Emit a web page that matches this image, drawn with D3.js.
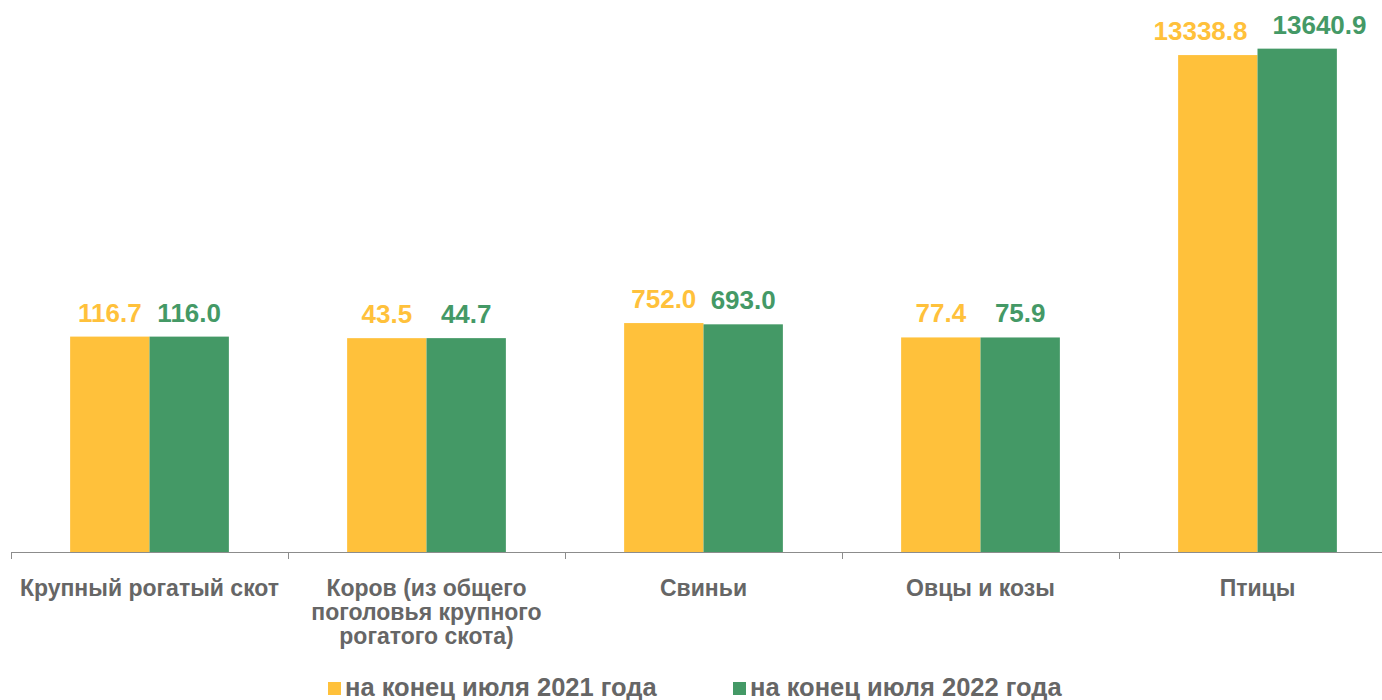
<!DOCTYPE html>
<html>
<head>
<meta charset="utf-8">
<script src="https://cdn.jsdelivr.net/npm/d3@7"></script>
<style>
  body { margin: 0; background: #fff; }
  svg { display: block; }
</style>
</head>
<body>
<svg id="chart" width="1382" height="700"></svg>
<script>
var categories = [
  ["Крупный рогатый скот"],
  ["Коров (из общего", "поголовья крупного", "рогатого скота)"],
  ["Свиньи"],
  ["Овцы и козы"],
  ["Птицы"]
];
var series2021 = [116.7, 43.5, 752.0, 77.4, 13338.8];
var series2022 = [116.0, 44.7, 693.0, 75.9, 13640.9];
var seriesNames = ["на конец июля 2021 года", "на конец июля 2022 года"];
var colors = ["#FFC13B", "#449966"];

var svg = d3.select("#chart");

// value axis of the original starts well below zero
var y = d3.scaleLinear().domain([-10000, 14000]).range([552, 41]);
var x = d3.scaleBand().domain(d3.range(categories.length)).range([11, 1396]);
var inner = d3.scaleBand().domain([0, 1]).range([0, x.bandwidth()]).paddingOuter(0.745);

var data = [];
categories.forEach(function (c, i) {
  data.push({ cat: i, s: 0, v: series2021[i] });
  data.push({ cat: i, s: 1, v: series2022[i] });
});

svg.selectAll(".bar").data(data).enter().append("rect")
  .attr("x", function (d) { return x(d.cat) + inner(d.s); })
  .attr("y", function (d) { return y(d.v); })
  .attr("width", inner.bandwidth())
  .attr("height", function (d) { return y(-10000) - y(d.v); })
  .attr("fill", function (d) { return colors[d.s]; });

var vals = svg.selectAll(".val").data(data).enter().append("text")
  .attr("class", "val")
  .attr("x", function (d) { return x(d.cat) + inner(d.s) + inner.bandwidth() / 2; })
  .attr("y", function (d) { return y(d.v) - 15; })
  .attr("text-anchor", "middle")
  .style("font-family", "Liberation Sans, Arial, sans-serif")
  .style("font-weight", "bold")
  .style("font-size", "26px")
  .attr("fill", function (d) { return colors[d.s]; })
  .text(function (d) { return d.v.toFixed(1); });

// push apart labels that are wider than their bars
var nodes = vals.nodes();
for (var k = 0; k < nodes.length; k += 2) {
  var w1 = nodes[k].getComputedTextLength(), w2 = nodes[k + 1].getComputedTextLength();
  var gap = inner.bandwidth() - w1 / 2 - w2 / 2;
  if (gap < 0) {
    var shift = (26 - gap) / 2;
    var a = d3.select(nodes[k]), b = d3.select(nodes[k + 1]);
    a.attr("x", +a.attr("x") - shift + 3);
    b.attr("x", +b.attr("x") + shift + 2);
  }
}

// axis line with ticks at band edges
svg.append("line")
  .attr("x1", 11).attr("x2", 1396)
  .attr("y1", 552.5).attr("y2", 552.5)
  .attr("stroke", "#8c8c8c").attr("stroke-width", 1);
svg.selectAll(".tick").data(d3.range(categories.length + 1)).enter().append("line")
  .attr("x1", function (i) { return 11.5 + i * x.bandwidth(); })
  .attr("x2", function (i) { return 11.5 + i * x.bandwidth(); })
  .attr("y1", 552).attr("y2", 559)
  .attr("stroke", "#8c8c8c").attr("stroke-width", 1);

var labels = svg.selectAll(".cat").data(categories).enter().append("text")
  .attr("text-anchor", "middle")
  .style("font-family", "Liberation Sans, Arial, sans-serif")
  .style("font-weight", "bold")
  .style("font-size", "23px")
  .attr("fill", "#666666");
labels.each(function (lines, i) {
  var t = d3.select(this);
  lines.forEach(function (l, j) {
    t.append("tspan")
      .attr("x", x(i) + x.bandwidth() / 2)
      .attr("y", 596 + j * 24)
      .text(l);
  });
});

// legend
var legX = [328, 733];
seriesNames.forEach(function (n, i) {
  svg.append("rect")
    .attr("x", legX[i]).attr("y", 682)
    .attr("width", 13).attr("height", 13)
    .attr("fill", colors[i]);
  svg.append("text")
    .attr("x", legX[i] + 17).attr("y", 696)
    .style("font-family", "Liberation Sans Narrow, Arial Narrow, Liberation Sans, sans-serif")
    .style("font-weight", "bold")
    .style("font-size", "25.5px")
    .attr("fill", "#666666")
    .text(n);
});
</script>
</body>
</html>
